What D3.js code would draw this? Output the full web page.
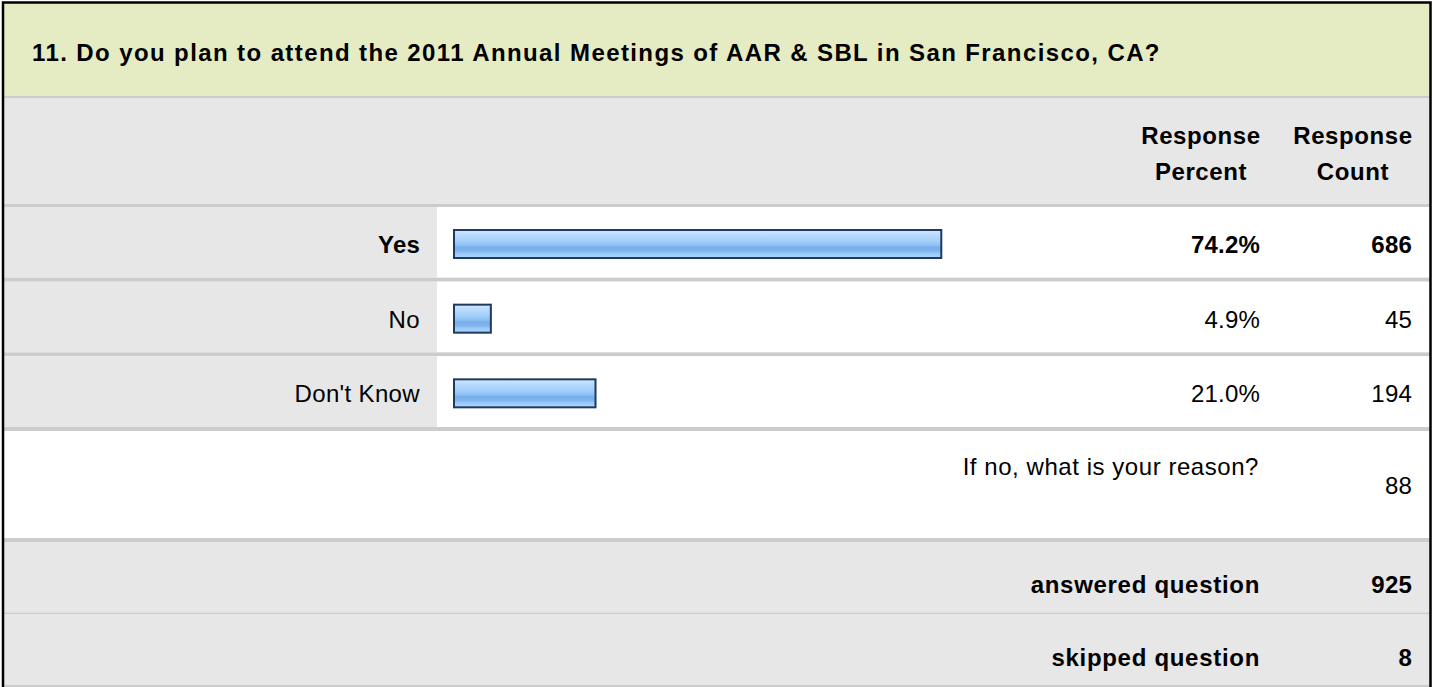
<!DOCTYPE html>
<html>
<head>
<meta charset="utf-8">
<script src="https://cdn.jsdelivr.net/npm/d3@7"></script>
<style>
  html, body { margin: 0; padding: 0; background: #fff; }
  svg { display: block; }
  text { font-family: Arial, "Liberation Sans", sans-serif; fill: #000; }
</style>
</head>
<body>
<script>
const title = "11. Do you plan to attend the 2011 Annual Meetings of AAR & SBL in San Francisco, CA?";
const headerCols = [["Response", "Percent"], ["Response", "Count"]];
const categories = ["Yes", "No", "Don't Know"];
const percents = [74.2, 4.9, 21.0];
const counts = [686, 45, 194];
const otherLabel = "If no, what is your reason?";
const otherCount = 88;
const summaryLabels = ["answered question", "skipped question"];
const summaryValues = [925, 8];

const W = 1432, H = 687;
const FS = 24, LS = 0.55;
const svg = d3.select("body").append("svg").attr("width", W).attr("height", H);

const defs = svg.append("defs");
const grad = defs.append("linearGradient").attr("id", "barGrad")
  .attr("x1", 0).attr("y1", 0).attr("x2", 0).attr("y2", 1);
[[0, "#d2e8fd"], [0.18, "#b8dafc"], [0.4, "#a2cffa"], [0.55, "#8dc0f4"],
 [0.62, "#78aeea"], [0.75, "#7fb4ee"], [0.85, "#9ccbf8"], [1, "#acd6fb"]]
  .forEach(([o, c]) => grad.append("stop").attr("offset", o).attr("stop-color", c));

const left = 4, right = 1430;
const labelColEnd = 437;
const sepColor = "#cccccc";
const gray = "#e7e7e7";

// Title band
svg.append("rect").attr("x", left).attr("y", 3).attr("width", right - left).attr("height", 93).attr("fill", "#e5ebc3");
svg.append("rect").attr("x", left).attr("y", 96).attr("width", right - left).attr("height", 2).attr("fill", sepColor);
svg.append("text").attr("x", 32).attr("y", 61).attr("font-size", FS).attr("font-weight", "bold")
  .attr("letter-spacing", 1.4).text(title);

// Header
svg.append("rect").attr("x", left).attr("y", 98).attr("width", right - left).attr("height", 106).attr("fill", gray);
svg.append("rect").attr("x", left).attr("y", 204).attr("width", right - left).attr("height", 3).attr("fill", sepColor);
const colCenters = [1201, 1353];
headerCols.forEach((lines, i) => {
  lines.forEach((ln, j) => {
    svg.append("text").attr("x", colCenters[i]).attr("y", 144 + j * 36)
      .attr("text-anchor", "middle").attr("font-size", FS).attr("font-weight", "bold")
      .attr("letter-spacing", 0.6).text(ln);
  });
});

// Rows
const y = d3.scaleBand().domain(categories).range([207, 431]).paddingInner(0).paddingOuter(0);
const step = y.step();
const sepH = 4;
const x = d3.scaleLinear().domain([0, 100]).range([460, 1110]);
const barX0 = 453;
const maxP = d3.max(percents);

const rows = svg.selectAll("g.row").data(categories).enter().append("g").attr("class", "row")
  .attr("transform", d => `translate(0,${y(d)})`);

rows.append("rect").attr("x", left).attr("y", 0).attr("width", labelColEnd - left).attr("height", step - sepH).attr("fill", gray);
rows.append("rect").attr("x", labelColEnd).attr("y", 0).attr("width", right - labelColEnd).attr("height", step - sepH).attr("fill", "#fff");
rows.append("rect").attr("x", left).attr("y", step - sepH).attr("width", right - left).attr("height", sepH).attr("fill", sepColor);

rows.append("rect")
  .attr("x", barX0 + 1).attr("y", 23)
  .attr("width", (d, i) => x(percents[i]) - barX0 - 2).attr("height", 28)
  .attr("fill", "url(#barGrad)").attr("stroke", "#1f3961").attr("stroke-width", 2);

const isBold = (i) => percents[i] === maxP;
const baseOff = 46;
rows.append("text").attr("x", 420).attr("y", baseOff).attr("text-anchor", "end").attr("font-size", FS)
  .attr("font-weight", (d, i) => isBold(i) ? "bold" : "normal").attr("letter-spacing", (d, i) => isBold(i) ? 0.2 : 0.35).text(d => d);
rows.append("text").attr("x", 1260).attr("y", baseOff).attr("text-anchor", "end").attr("font-size", FS)
  .attr("font-weight", (d, i) => isBold(i) ? "bold" : "normal").attr("letter-spacing", 0.2)
  .text((d, i) => d3.format(".1f")(percents[i]) + "%");
rows.append("text").attr("x", 1412).attr("y", baseOff).attr("text-anchor", "end").attr("font-size", FS)
  .attr("font-weight", (d, i) => isBold(i) ? "bold" : "normal").attr("letter-spacing", 0.2)
  .text((d, i) => counts[i]);

// Other row
svg.append("rect").attr("x", left).attr("y", 431).attr("width", right - left).attr("height", 107).attr("fill", "#fff");
svg.append("rect").attr("x", left).attr("y", 538).attr("width", right - left).attr("height", 4).attr("fill", sepColor);
svg.append("text").attr("x", 1259).attr("y", 475).attr("text-anchor", "end").attr("font-size", FS)
  .attr("letter-spacing", LS).text(otherLabel);
svg.append("text").attr("x", 1412).attr("y", 494).attr("text-anchor", "end").attr("font-size", FS)
  .attr("letter-spacing", 0.2).text(otherCount);

// Summary rows
const ys = d3.scaleBand().domain(summaryLabels).range([542, 687]);
const sstep = ys.step();
const srows = svg.selectAll("g.srow").data(summaryLabels).enter().append("g").attr("class", "srow")
  .attr("transform", d => `translate(0,${ys(d)})`);
srows.append("rect").attr("x", left).attr("y", 0).attr("width", right - left).attr("height", sstep - 2).attr("fill", gray);
srows.append("rect").attr("x", left).attr("y", sstep - 2).attr("width", right - left).attr("height", 2).attr("fill", sepColor);
srows.append("text").attr("x", 1260).attr("y", 51).attr("text-anchor", "end").attr("font-size", FS)
  .attr("font-weight", "bold").attr("letter-spacing", 0.7).text(d => d);
srows.append("text").attr("x", 1412).attr("y", 51).attr("text-anchor", "end").attr("font-size", FS)
  .attr("font-weight", "bold").attr("letter-spacing", 0.2).text((d, i) => summaryValues[i]);

// Outer border
svg.append("path").attr("d", `M3,${H + 5} V2.5 H1430.5 V${H + 5}`).attr("fill", "none")
  .attr("stroke", "#000").attr("stroke-width", 2.5);
</script>
</body>
</html>
